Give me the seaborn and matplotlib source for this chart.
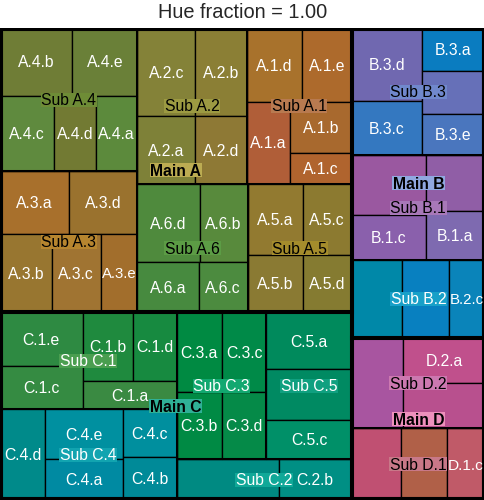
import matplotlib
matplotlib.use("Agg")
import matplotlib.pyplot as plt
import seaborn as sns
from matplotlib.patches import Rectangle

sns.set_theme(style="white")
plt.rcParams["font.family"] = ["Liberation Sans", "DejaVu Sans"]

# hierarchy: main groups -> sub groups -> leaves (a, b, c, ...)
main_names = ["Main A", "Main B", "Main C", "Main D"]
sub_names = {
    "Main A": ["A.1", "A.2", "A.3", "A.4", "A.5", "A.6"],
    "Main B": ["B.1", "B.2", "B.3"],
    "Main C": ["C.1", "C.2", "C.3", "C.4", "C.5"],
    "Main D": ["D.1", "D.2"],
}
leaf_values = {
    "A.1": [3360, 2989, 1830, 3888, 3528],
    "A.2": [3762, 4386, 4902, 3366],
    "A.3": [4148, 3927, 3696, 4087, 2772],
    "A.4": [3000, 4686, 3922, 3034, 4224],
    "A.5": [3780, 3024, 3360, 2688],
    "A.6": [2940, 3619, 2352, 4697],
    "B.1": [2769, 4260, 3176, 3156],
    "B.2": [3764, 3533, 2688],
    "B.3": [2616, 2574, 3685, 4910, 2512],
    "C.1": [2550, 3300, 3420, 2880, 4250],
    "C.2": [4018, 2882],
    "C.3": [3438, 2899, 3388, 2875],
    "C.4": [3073, 2223, 2441, 3960, 3703],
    "C.5": [4667, 4167, 3166],
    "D.1": [3388, 3176, 2612],
    "D.2": [3571, 4463, 3550],
}

# colours
main_colors = {"Main A": "#bcac52", "Main B": "#90a8e0", "Main C": "#2fb096", "Main D": "#ee90bc"}
sub_colors = {
    "A.1": "#b87a50", "A.2": "#9c9a42", "A.3": "#b6852f", "A.4": "#6e8c36",
    "A.5": "#a48c2c", "A.6": "#5c9c45",
    "B.1": "#a878b8", "B.2": "#18a0c8", "B.3": "#7088cc",
    "C.1": "#4a9e50", "C.2": "#10a898", "C.3": "#12a870", "C.4": "#12a4b0", "C.5": "#10a080",
    "D.1": "#c87888", "D.2": "#cc78b0",
}
sub_white = ["B.2", "C.1", "C.2", "C.3", "C.4", "C.5"]
leaf_colors = {
    "A.1": ["#b05e38", "#a8692e", "#b0642e", "#a8722c", "#ad6a2c"],
    "A.2": ["#7e8138", "#8b7f35", "#848238", "#8e7935"],
    "A.3": ["#a8702c", "#987630", "#a07432", "#9a722e", "#a26e2c"],
    "A.4": ["#5c8a3c", "#6f7d36", "#5f8a3e", "#727a33", "#6a8038"],
    "A.5": ["#927a30", "#8a7a33", "#8c7a30", "#857b31"],
    "A.6": ["#478a3f", "#588a3c", "#4c8b3f", "#4f8a3d"],
    "B.1": ["#7e6ab0", "#9a58a0", "#8a60ac", "#905ea6"],
    "B.2": ["#0088a8", "#0880c0", "#0a84ba"],
    "B.3": ["#0a7cc0", "#6670b8", "#3478c0", "#7068b0", "#4a76be"],
    "C.1": ["#3a8a42", "#1f8a3e", "#358b42", "#178a40", "#2e8a42"],
    "C.2": ["#008a82", "#008f84"],
    "C.3": ["#008a42", "#008a44", "#008a48", "#058a48"],
    "C.4": ["#008aa2", "#008a98", "#008f9e", "#008a8a", "#0090a0"],
    "C.5": ["#008a5c", "#008a62", "#009068"],
    "D.1": ["#c05072", "#b06048", "#c05a68"],
    "D.2": ["#c0508c", "#a855a0", "#b8508e"],
}

W, H = 485, 472


# squarified treemap layout
def strip(sizes, x, y, dx, dy):
    total = sum(sizes)
    rects = []
    if dx >= dy:
        w = total / dy
        pos = y
        for s in sizes:
            rects.append((x, pos, w, s / w))
            pos += s / w
        return rects, (x + w, y, dx - w, dy)
    h = total / dx
    pos = x
    for s in sizes:
        rects.append((pos, y, s / h, h))
        pos += s / h
    return rects, (x, y + h, dx, dy - h)


def worst(sizes, dx, dy):
    rects, _ = strip(sizes, 0, 0, dx, dy)
    return max(max(w / h, h / w) for _, _, w, h in rects)


def squarify(sizes, x, y, dx, dy):
    if len(sizes) <= 1:
        return [(x, y, dx, dy)] * len(sizes)
    i = 1
    while i < len(sizes) and worst(sizes[:i], dx, dy) >= worst(sizes[:i + 1], dx, dy):
        i += 1
    rects, rest = strip(sizes[:i], x, y, dx, dy)
    return rects + squarify(sizes[i:], *rest)


def place(names, values, box):
    x, y, dx, dy = box
    order = sorted(range(len(values)), key=lambda k: -values[k])
    scale = dx * dy / sum(values)
    rects = squarify([values[k] * scale for k in order], x, y, dx, dy)
    return {names[k]: r for k, r in zip(order, rects)}


sub_totals = {s: sum(v) for s, v in leaf_values.items()}
main_totals = [sum(sub_totals[s] for s in sub_names[m]) for m in main_names]
main_rects = place(main_names, main_totals, (0, 0, W, H))
sub_rects = {}
for m in main_names:
    sub_rects.update(place(sub_names[m], [sub_totals[s] for s in sub_names[m]], main_rects[m]))
leaf_rects = {}
for s, vals in leaf_values.items():
    names = [f"{s}.{chr(97 + k)}" for k in range(len(vals))]
    leaf_rects.update(place(names, vals, sub_rects[s]))

# 1 data unit == 1 pixel, y grows downwards
fig = plt.figure(figsize=(4.85, 5.0), dpi=100)
ax = fig.add_axes([0, 0, 1, H / 500])
ax.set_xlim(0, W)
ax.set_ylim(H, 0)
ax.axis("off")

for name, (x, y, w, h) in leaf_rects.items():
    col = leaf_colors[name[:3]][ord(name[-1]) - 97]
    ax.add_patch(Rectangle((x, y), w, h, facecolor=col, edgecolor="black", lw=0.95))
for name, (x, y, w, h) in sub_rects.items():
    ax.add_patch(Rectangle((x, y), w, h, fill=False, edgecolor="black", lw=1.45))
for name, (x, y, w, h) in main_rects.items():
    ax.add_patch(Rectangle((x, y), w, h, fill=False, edgecolor="black", lw=2.9))
ax.add_patch(Rectangle((0, 0), W, H, fill=False, edgecolor="black", lw=4.4))

FS = 11.3
CAP = 0.716 * FS * 100 / 72  # cap height in pixels
LINE_H = 13.8                # label height used for the overlap test
renderer = fig.canvas.get_renderer()


def label(cx, cy, txt, size, color, weight, z, box=None):
    cap = CAP * size / FS
    t = ax.text(cx, cy + cap / 2, txt, ha="center", va="baseline", fontsize=size,
                color=color, fontweight=weight, zorder=z)
    tw = t.get_window_extent(renderer).width
    x0 = cx - tw / 2
    if box is not None:
        ax.add_patch(Rectangle((x0 - 0.6, cy - cap / 2 - 1.2), tw + 1.2, cap + 2.7,
                               facecolor=box, edgecolor="none", zorder=z - 0.5))
    return t, (x0, cy - LINE_H / 2, x0 + tw, cy + LINE_H / 2)


upper = []
for m, (x, y, w, h) in main_rects.items():
    upper.append(label(x + w / 2, y + h / 2, m, FS, "black", "bold", 7, main_colors[m])[1])
for s, (x, y, w, h) in sub_rects.items():
    upper.append(label(x + w / 2, y + h / 2, "Sub " + s, FS,
                       "white" if s in sub_white else "black", "normal", 6, sub_colors[s])[1])


def overlap(a, b):
    ow = min(a[2], b[2]) - max(a[0], b[0])
    oh = min(a[3], b[3]) - max(a[1], b[1])
    return max(ow, 0) * max(oh, 0)


for name, (x, y, w, h) in leaf_rects.items():
    t, ext = label(x + w / 2, y + h / 2, name, FS, "white", "normal", 4)
    tw = ext[2] - ext[0]
    if tw > w - 2:
        t.remove()
        t, ext = label(x + w / 2, y + h / 2, name, FS * (w - 2) / tw, "white", "normal", 4)
    if any(overlap(ext, u) > 0.5 for u in upper):
        t.remove()

fig.text(0.5, 1 - 12 / 500, "Hue fraction = 1.00", ha="center", va="center", fontsize=14.4)

plt.savefig("out.png", dpi=100)
